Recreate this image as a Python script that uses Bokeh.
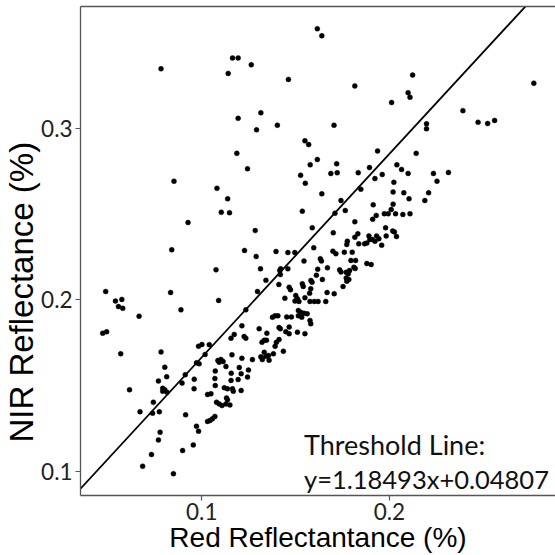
from bokeh.plotting import figure
from bokeh.models import Range1d, FixedTicker, LinearAxis, Label
from bokeh.embed import file_html
from bokeh.resources import INLINE

# Red and NIR reflectance of each sample
red = [
    0.0783, 0.1164, 0.1194, 0.1141, 0.1194, 0.1187, 0.1616, 0.1640, 0.1264, 0.1462,
    0.1816, 0.2012, 0.1315, 0.1292, 0.1403, 0.1705, 0.1550, 0.1570, 0.1937, 0.1616,
    0.1578, 0.1719, 0.1894, 0.2040, 0.1244, 0.2124, 0.2100, 0.2110, 0.2770, 0.2392,
    0.2198, 0.2198, 0.2473, 0.2524, 0.2561, 0.2143, 0.2065, 0.0852, 0.1081, 0.1138,
    0.1104, 0.1148, 0.0927, 0.0840, 0.1076, 0.0488, 0.0834, 0.0540, 0.0574, 0.0556,
    0.0579, 0.1090, 0.0889, 0.0666, 0.0472, 0.0493, 0.1173, 0.1527, 0.1688, 0.1722,
    0.1834, 0.1552, 0.1923, 0.1962, 0.2024, 0.1848, 0.1640, 0.2020, 0.1742, 0.1914,
    0.2020, 0.1536, 0.1710, 0.1765, 0.1930, 0.1973, 0.1994, 0.2010, 0.2033, 0.1911,
    0.1816, 0.1285, 0.1589, 0.1701, 0.1980, 0.2018, 0.2027, 0.1832, 0.1816, 0.1891,
    0.1896, 0.1932, 0.1944, 0.1923, 0.1909, 0.1983, 0.2038, 0.1776, 0.1773, 0.1837,
    0.1880, 0.1868, 0.1959, 0.1597, 0.1228, 0.1396, 0.1459, 0.1496, 0.1699, 0.1715,
    0.1760, 0.1802, 0.1290, 0.1632, 0.1638, 0.1795, 0.1820, 0.1545, 0.1880, 0.1903,
    0.1811, 0.1818, 0.1313, 0.1421, 0.1416, 0.1459, 0.1670, 0.1618, 0.1735, 0.1742,
    0.1788, 0.1770, 0.1781, 0.1419, 0.1611, 0.1342, 0.1643, 0.1582, 0.1588, 0.1770,
    0.1784, 0.1773, 0.1411, 0.1536, 0.1541, 0.1753, 0.1466, 0.1473, 0.1581, 0.1575,
    0.1297, 0.1668, 0.1706, 0.1501, 0.1510, 0.1550, 0.1443, 0.1600, 0.1620, 0.1577,
    0.1661, 0.1497, 0.1518, 0.1515, 0.1527, 0.1545, 0.1562, 0.1515, 0.1235, 0.1377,
    0.1391, 0.1406, 0.1453, 0.1478, 0.1533, 0.1577, 0.1581, 0.1214, 0.1306, 0.1347,
    0.1412, 0.1419, 0.1466, 0.1466, 0.1448, 0.1510, 0.1550, 0.2100, 0.2235, 0.2315,
    0.2254, 0.2077, 0.2105, 0.2209, 0.2189, 0.2072, 0.2110, 0.0568, 0.0783, 0.0983,
    0.1001, 0.1040, 0.1156, 0.1018, 0.0972, 0.0986, 0.1086, 0.1093, 0.1102, 0.1114,
    0.1161, 0.1200, 0.1129, 0.0803, 0.1072, 0.0813, 0.0912, 0.0769, 0.0960, 0.0895,
    0.1157, 0.1156, 0.1194, 0.1070, 0.1072, 0.0615, 0.0792, 0.0803, 0.0792, 0.0815,
    0.0959, 0.1120, 0.1137, 0.1164, 0.1168, 0.1031, 0.1049, 0.1132, 0.1137, 0.1079,
    0.1093, 0.1108, 0.1129, 0.1150, 0.0742, 0.0671, 0.0738, 0.0774, 0.0914, 0.1031,
    0.1044, 0.1057, 0.1070, 0.0972, 0.0983, 0.0778, 0.0769, 0.0955, 0.0732, 0.0898,
    0.0685, 0.0849, 0.1235, 0.1226, 0.1321, 0.1333, 0.1345, 0.1412, 0.1398, 0.1391,
    0.1214, 0.1270, 0.1315, 0.1323, 0.1333, 0.1342, 0.1359, 0.1356, 0.1382, 0.1435,
    0.1249, 0.1210, 0.1244, 0.1210,
]
nir = [
    0.3347, 0.3410, 0.3410, 0.3320, 0.3058, 0.2854, 0.3580, 0.3539, 0.3370, 0.3285,
    0.3247, 0.3150, 0.3090, 0.2991, 0.3018, 0.3018, 0.2927, 0.2905, 0.2868, 0.2818,
    0.2787, 0.2793, 0.2771, 0.2787, 0.2764, 0.3310, 0.3207, 0.3181, 0.3263, 0.3103,
    0.3026, 0.2997, 0.3035, 0.3028, 0.3046, 0.2854, 0.2760, 0.2692, 0.2650, 0.2589,
    0.2511, 0.2508, 0.2451, 0.2292, 0.2175, 0.2049, 0.2043, 0.1993, 0.2003, 0.1961,
    0.1951, 0.1997, 0.1942, 0.1905, 0.1806, 0.1814, 0.1799, 0.2727, 0.2737, 0.2741,
    0.2741, 0.2680, 0.2707, 0.2731, 0.2685, 0.2645, 0.2618, 0.2629, 0.2579, 0.2554,
    0.2558, 0.2517, 0.2505, 0.2521, 0.2492, 0.2502, 0.2502, 0.2527, 0.2502, 0.2470,
    0.2455, 0.2404, 0.2420, 0.2391, 0.2420, 0.2402, 0.2396, 0.2385, 0.2365, 0.2373,
    0.2352, 0.2373, 0.2356, 0.2342, 0.2352, 0.2373, 0.2369, 0.2342, 0.2323, 0.2327,
    0.2331, 0.2327, 0.2319, 0.2304, 0.2288, 0.2282, 0.2276, 0.2276, 0.2284, 0.2269,
    0.2278, 0.2278, 0.2253, 0.2240, 0.2226, 0.2230, 0.2230, 0.2226, 0.2212, 0.2206,
    0.2190, 0.2183, 0.2181, 0.2181, 0.2171, 0.2181, 0.2187, 0.2179, 0.2175, 0.2163,
    0.2171, 0.2161, 0.2152, 0.2148, 0.2144, 0.2114, 0.2119, 0.2113, 0.2103, 0.2128,
    0.2119, 0.2109, 0.2090, 0.2094, 0.2078, 0.2078, 0.2074, 0.2059, 0.2065, 0.2039,
    0.2049, 0.2043, 0.2036, 0.2026, 0.2007, 0.2013, 0.2010, 0.1991, 0.1991, 0.1991,
    0.1991, 0.1993, 0.1991, 0.1938, 0.1928, 0.1922, 0.1919, 0.1907, 0.1942, 0.1899,
    0.1907, 0.1907, 0.1901, 0.1901, 0.1899, 0.1880, 0.1861, 0.1849, 0.1832, 0.1806,
    0.1839, 0.1832, 0.1842, 0.1803, 0.1815, 0.1812, 0.1803, 0.2737, 0.2737, 0.2743,
    0.2692, 0.2624, 0.2589, 0.2624, 0.2579, 0.2498, 0.2502, 0.1686, 0.1697, 0.1730,
    0.1740, 0.1739, 0.1777, 0.1682, 0.1633, 0.1628, 0.1647, 0.1637, 0.1653, 0.1641,
    0.1680, 0.1606, 0.1612, 0.1608, 0.1585, 0.1552, 0.1564, 0.1527, 0.1538, 0.1515,
    0.1573, 0.1531, 0.1536, 0.1542, 0.1501, 0.1476, 0.1485, 0.1476, 0.1468, 0.1462,
    0.1482, 0.1488, 0.1482, 0.1482, 0.1468, 0.1449, 0.1453, 0.1429, 0.1418, 0.1404,
    0.1394, 0.1384, 0.1394, 0.1388, 0.1404, 0.1348, 0.1340, 0.1348, 0.1330, 0.1292,
    0.1297, 0.1307, 0.1321, 0.1264, 0.1235, 0.1229, 0.1184, 0.1155, 0.1099, 0.1122,
    0.1031, 0.0987, 0.1777, 0.1787, 0.1753, 0.1765, 0.1765, 0.1769, 0.1753, 0.1730,
    0.1660, 0.1652, 0.1668, 0.1652, 0.1695, 0.1672, 0.1649, 0.1676, 0.1686, 0.1701,
    0.1591, 0.1570, 0.1550, 0.1472,
]

# Threshold line y = slope * x + intercept
slope = 1.18493
intercept = 0.04807

x_ticks = [0.1, 0.2]
y_ticks = [0.1, 0.2, 0.3]

x_title = "Red Reflectantance (%)"
y_title = "NIR Reflectance (%)"

x_lo, x_hi = 0.03537, 0.28856
y_lo, y_hi = 0.08601, 0.37098

axis_grey = "#555555"
tick_font = "Lato"

p = figure(
    width=555, height=555,
    output_backend="svg", toolbar_location=None,
    x_range=Range1d(x_lo, x_hi), y_range=Range1d(y_lo, y_hi),
    min_border_left=79, min_border_right=0,
    min_border_top=6, min_border_bottom=60,
)
p.outline_line_color = None
p.grid.visible = False
p.background_fill_color = "white"
p.border_fill_color = "white"

for ax, ticks in ((p.xaxis, x_ticks), (p.yaxis, y_ticks)):
    ax.ticker = FixedTicker(ticks=ticks)
    ax.major_label_overrides = {t: f"{t:.1f}" for t in ticks}
    ax.minor_tick_line_color = None
    ax.major_tick_in = 0
    ax.major_tick_out = 5
    ax.major_tick_line_color = axis_grey
    ax.major_tick_line_width = 1.2
    ax.axis_line_color = axis_grey
    ax.axis_line_width = 1.3
    ax.major_label_text_font = tick_font
    ax.major_label_text_font_size = "22.5px"
    ax.major_label_text_color = "#222222"
    ax.axis_label_text_font = "Liberation Sans"
    ax.axis_label_text_font_style = "normal"
    ax.axis_label_text_color = "black"
p.xaxis.major_label_standoff = 2
p.yaxis.major_label_standoff = 3

# axis titles; the trailing no-break spaces shift the vertical title down a little
p.xaxis.axis_label = x_title
p.xaxis.axis_label_text_font_size = "28px"
p.xaxis.axis_label_standoff = -1
p.yaxis.axis_label = y_title + "\u00a0" * 9
p.yaxis.axis_label_text_font_size = "33px"
p.yaxis.axis_label_standoff = -2

# top edge of the panel
top_edge = LinearAxis(
    ticker=FixedTicker(ticks=[]),
    axis_line_color=axis_grey, axis_line_width=1.3,
    major_tick_line_color=None, minor_tick_line_color=None,
    major_label_text_font_size="0px", major_label_standoff=0,
)
p.add_layout(top_edge, "above")

line_x = [x_lo, x_hi]
line_y = [slope * v + intercept for v in line_x]
p.line(line_x, line_y, line_color="black", line_width=1.8)

p.scatter(red, nir, size=5, fill_color="black", line_color="black", line_width=0.4)

eq_font = "Lato"
p.add_layout(Label(x=0.1545, y=0.1160, text="Threshold Line:",
                   text_font=eq_font, text_font_size="27px", text_color="#111111",
                   text_baseline="alphabetic"))
p.add_layout(Label(x=0.1545, y=0.0959, text=f"y={slope}x+{intercept}",
                   text_font=eq_font, text_font_size="25.5px", text_color="#111111",
                   text_baseline="alphabetic"))

open("out.html", "w").write(file_html(p, INLINE))
